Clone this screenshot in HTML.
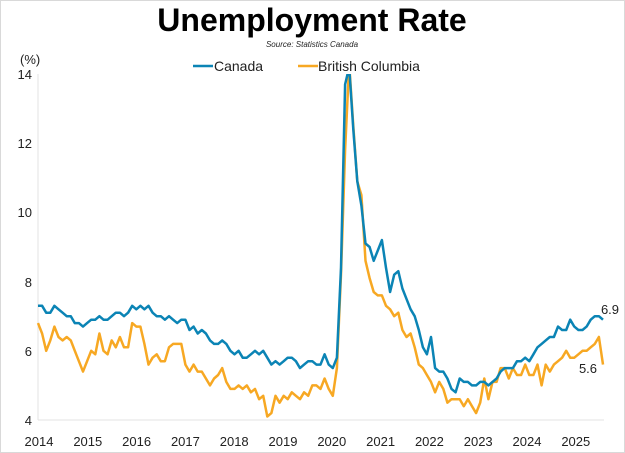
<!DOCTYPE html>
<html><head><meta charset="utf-8"><style>
html,body{margin:0;padding:0;background:#fff;}
svg{display:block;font-family:"Liberation Sans",sans-serif;}
</style></head><body>
<svg id="s" width="625" height="453" viewBox="0 0 625 453" xmlns="http://www.w3.org/2000/svg">
<rect x="0.5" y="0.5" width="624" height="452" fill="#fff" stroke="#d9d9d9"/>
<text x="312" y="31" text-anchor="middle" font-size="32" font-weight="bold" fill="#000">Unemployment Rate</text>
<text x="312" y="47" text-anchor="middle" font-size="8" font-style="italic" fill="#222">Source: Statistics Canada</text>
<line x1="193" y1="66" x2="213" y2="66" stroke="#0b84b5" stroke-width="2.5"/>
<text x="214" y="71" font-size="14" fill="#222">Canada</text>
<line x1="298" y1="66" x2="318" y2="66" stroke="#f7a823" stroke-width="2.5"/>
<text x="318" y="71" font-size="14" fill="#222">British Columbia</text>
<text x="20" y="64" font-size="13" fill="#222">(%)</text>
<line x1="38" y1="74" x2="38" y2="420" stroke="#e3e3e3"/>
<line x1="38" y1="420" x2="604" y2="420" stroke="#e3e3e3"/>
<g font-size="13" fill="#222" text-anchor="end">
<text x="32" y="79">14</text><text x="32" y="148">12</text><text x="32" y="217">10</text>
<text x="32" y="287">8</text><text x="32" y="356">6</text><text x="32" y="425">4</text>
</g>
<g id="xl" font-size="13" fill="#222" text-anchor="middle"></g>
<defs><clipPath id="c"><rect x="30" y="74" width="600" height="360"/></clipPath></defs>
<g clip-path="url(#c)">
<polyline id="bc" fill="none" stroke="#f7a823" stroke-width="2.5" stroke-linejoin="round"/>
<polyline id="ca" fill="none" stroke="#0b84b5" stroke-width="2.5" stroke-linejoin="round"/>
</g>
<text x="610" y="314" text-anchor="middle" font-size="13" fill="#222">6.9</text>
<text x="588" y="373" text-anchor="middle" font-size="13" fill="#222">5.6</text>
</svg>
<script>
var ca=[7.3,7.3,7.1,7.1,7.3,7.2,7.1,7.0,7.0,6.8,6.8,6.7,
6.8,6.9,6.9,7.0,6.9,6.9,7.0,7.1,7.1,7.0,7.1,7.3,
7.2,7.3,7.2,7.3,7.1,7.0,7.0,6.9,7.0,6.9,6.8,6.9,
6.9,6.6,6.7,6.5,6.6,6.5,6.3,6.2,6.2,6.3,6.2,6.0,
5.9,6.0,5.8,5.8,5.9,6.0,5.9,6.0,5.8,5.6,5.7,5.6,
5.7,5.8,5.8,5.7,5.5,5.6,5.7,5.7,5.6,5.6,5.9,5.6,
5.5,5.8,8.4,13.7,14.2,12.4,10.9,10.2,9.1,9.0,8.6,8.9,
9.2,8.4,7.7,8.2,8.3,7.8,7.5,7.2,7.0,6.6,6.1,5.9,
6.4,5.5,5.4,5.4,5.2,4.9,4.8,5.2,5.1,5.1,5.0,5.0,
5.1,5.1,5.0,5.1,5.2,5.4,5.5,5.5,5.5,5.7,5.7,5.8,
5.7,5.9,6.1,6.2,6.3,6.4,6.4,6.7,6.6,6.6,6.9,6.7,
6.6,6.6,6.7,6.9,7.0,7.0,6.9];
var bc=[6.8,6.5,6.0,6.3,6.7,6.4,6.3,6.4,6.3,6.0,5.7,5.4,
5.7,6.0,5.9,6.5,6.0,5.9,6.3,6.1,6.4,6.1,6.1,6.8,
6.7,6.7,6.2,5.6,5.8,5.9,5.7,5.7,6.1,6.2,6.2,6.2,
5.6,5.4,5.6,5.4,5.4,5.2,5.0,5.2,5.3,5.5,5.1,4.9,
4.9,5.0,4.9,5.0,4.8,4.9,4.6,4.7,4.1,4.2,4.7,4.5,
4.7,4.6,4.8,4.7,4.6,4.8,4.7,5.0,5.0,4.9,5.2,4.9,
4.7,5.5,8.2,11.8,14.3,12.5,10.9,10.5,8.6,8.1,7.7,7.6,
7.6,7.3,7.2,7.0,7.1,6.6,6.4,6.5,6.1,5.6,5.5,5.3,
5.1,4.8,5.1,4.9,4.5,4.6,4.6,4.6,4.4,4.6,4.4,4.2,
4.5,5.2,4.6,5.1,5.1,5.5,5.5,5.2,5.5,5.3,5.3,5.6,
5.3,5.3,5.6,5.0,5.6,5.4,5.6,5.7,5.8,6.0,5.8,5.8,
5.9,6.0,6.0,6.1,6.2,6.4,5.6];
var step=565/138;
function pts(a){return a.map(function(v,i){return (38+i*step).toFixed(1)+","+(420-(v-4)*34.6).toFixed(1)}).join(" ");}
document.getElementById("ca").setAttribute("points",pts(ca));
document.getElementById("bc").setAttribute("points",pts(bc));
var g=document.getElementById("xl"),h="";
for(var y=0;y<12;y++){h+='<text x="'+(39+y*48.8).toFixed(1)+'" y="446">'+(2014+y)+'</text>';}
g.innerHTML=h;
</script>
</body></html>
